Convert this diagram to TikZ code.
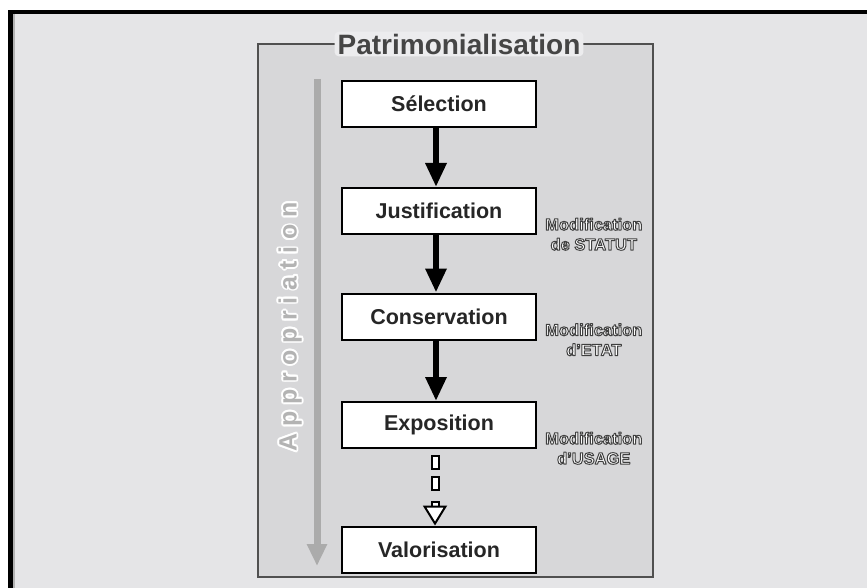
\documentclass[tikz,border=0pt]{standalone}
\usepackage{fontspec}
\setmainfont{Liberation Sans}
\newfontfamily\spacedfont[LetterSpace=28]{Liberation Sans}
\usepackage{contour}
\usepackage{tikz}
\usetikzlibrary{positioning}
\usetikzlibrary{arrows.meta}

\definecolor{pagebg}{HTML}{E5E5E7}
\definecolor{panelbg}{HTML}{D7D7D9}
\definecolor{panelline}{HTML}{505050}
\definecolor{titlegray}{HTML}{454545}
\definecolor{glow}{HTML}{ECECEE}
\definecolor{approgray}{HTML}{ABABAB}
\definecolor{approtext}{HTML}{B3B3B3}

% outlined white text (fill white, stroke dark)
\newcommand{\outlined}[1]{\special{pdf:literal direct 2 Tr 1 w 0.25 G 1 j}#1\special{pdf:literal direct 0 Tr}}

\tikzset{
  stagebox/.style={draw=black, line width=2pt, fill=white, minimum width=194pt, minimum height=46pt,
    font=\fontsize{21.5}{24}\selectfont\bfseries, text=black!85},
  modlabel/.style={inner sep=0pt, align=center, text=white, font=\fontsize{16.5}{20}\selectfont\bfseries},
  flowarrow/.style={line width=6pt, -{Triangle[width=20pt,length=24pt]}, transform canvas={xshift=-3pt}},
  dashbox/.style={draw=black, line width=2pt, fill=white, minimum width=7pt, minimum height=13pt, inner sep=0pt},
  hollowhead/.style={line width=2pt, -{Triangle[open,fill=white,width=24pt,length=20pt]}}
}

\begin{document}
\begin{tikzpicture}[x=1pt,y=-1pt]

  % background and frame
  \useasboundingbox (0,0) rectangle (867,588);
  \fill[white] (0,0) rectangle (867,588);
  \fill[pagebg] (8,10) rectangle (867,588);
  \fill[black] (8,10) rectangle (867,14);
  \fill[black] (8,10) rectangle (12.5,588);
  \fill[black!30] (12.5,14) rectangle (14.5,588);

  % panel
  \draw[panelline, line width=2.5pt, fill=panelbg] (258,44) rectangle (653,577);
  \node[fill=glow, rounded corners=4pt, inner xsep=3pt, inner ysep=2pt, text=titlegray,
        font=\fontsize{28}{30}\selectfont\bfseries] (title) at (459,44) {Patrimonialisation};

  % appropriation arrow
  \coordinate (apptop) at (317,79);
  \coordinate (append) at (317,566);
  \draw[approgray, line width=7pt, -{Triangle[width=19pt,length=22pt]}] (apptop) -- (append);
  \node[rotate=90, text=approtext, font=\fontsize{25}{28}\selectfont\spacedfont\bfseries] (appro) at (291,327)
    {\contourlength{1.8pt}\contour{white}{Appropriation}};

  % stages
  \node[stagebox] (sel) at (439,104) {Sélection};
  \node[stagebox, below=59pt of sel] (jus) {Justification};
  \node[stagebox, below=57.5pt of jus] (con) {Conservation};
  \node[stagebox, below=60.5pt of con] (exp) {Exposition};
  \node[stagebox, below=76.5pt of exp] (val) {Valorisation};

  \draw[flowarrow] (sel.south) -- (jus.north);
  \draw[flowarrow] (jus.south) -- (con.north);
  \draw[flowarrow] (con.south) -- (exp.north);

  % dashed hollow arrow
  \node[dashbox, below=6pt of exp.south, xshift=-4pt] (dash1) {};
  \node[dashbox, below=6pt of dash1] (dash2) {};
  \node[dashbox, minimum height=8pt, below=10pt of dash2] (dash3) {};
  \draw[hollowhead] (dash3.south) -- (dash3.south |- val.north);

  % modification labels
  \node[modlabel, below right=7pt and 8pt of jus.east] (statut)
    {\outlined{Modification}\\\outlined{de STATUT}};
  \node[modlabel, below right=7pt and 8pt of con.east] (etat)
    {\outlined{Modification}\\\outlined{d’ETAT}};
  \node[modlabel, below right=7pt and 8pt of exp.east] (usage)
    {\outlined{Modification}\\\outlined{d’USAGE}};

\end{tikzpicture}
\end{document}
